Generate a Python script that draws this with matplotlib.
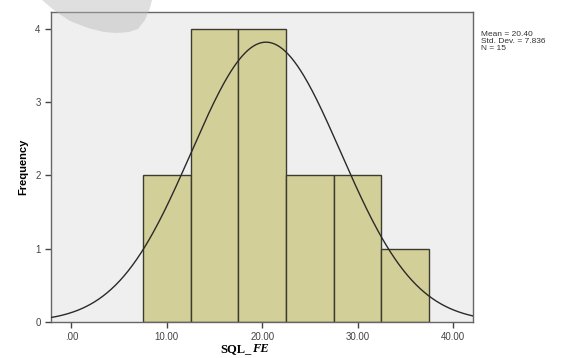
import numpy as np
import matplotlib.pyplot as plt
from matplotlib.patches import Polygon

# histogram data (SQL_FE)
bin_edges = [7.5, 12.5, 17.5, 22.5, 27.5, 32.5, 37.5]
counts = [2, 4, 4, 2, 2, 1]
mean = 20.40
std = 7.836
n = 15

xticks = [0, 10, 20, 30, 40]
xtick_labels = [".00", "10.00", "20.00", "30.00", "40.00"]
yticks = [0, 1, 2, 3, 4]

plt.rcParams["font.family"] = ["Liberation Sans", "DejaVu Sans"]

fig = plt.figure(figsize=(5.64, 3.58), dpi=100)
fig.patch.set_facecolor("white")
ax = fig.add_axes([51 / 564, 36 / 358, 422 / 564, 310 / 358])
ax.set_facecolor("#efefef")

widths = np.diff(bin_edges)
ax.bar(bin_edges[:-1], counts, width=widths, align="edge",
       color="#d3cf98", edgecolor="#3b3b30", linewidth=1.0, zorder=2)

# normal curve scaled to counts
bw = widths[0]
xs = np.linspace(-2.14, 42.1, 400)
ys = n * bw / (std * np.sqrt(2 * np.pi)) * np.exp(-0.5 * ((xs - mean) / std) ** 2)
ax.plot(xs, ys, color="#2a2a2a", linewidth=1.0, zorder=3)

ax.set_xlim(-2.14, 42.1)
ax.set_ylim(0, 4.23)
ax.set_xticks(xticks)
ax.set_xticklabels(xtick_labels)
ax.set_yticks(yticks)
ax.tick_params(axis="both", labelsize=7, colors="#444444", length=4, width=1.0,
               direction="out")
for s in ax.spines.values():
    s.set_color("#666666")
    s.set_linewidth(1.0)

ax.set_ylabel("Frequency", fontsize=8, fontweight="bold", labelpad=5)
fig.text(252 / 564, 1 - 349 / 358, "SQL_", fontsize=9, fontweight="bold",
         family="Liberation Serif", ha="right", va="center")
fig.text(252 / 564, 1 - 349 / 358, "FE", fontsize=9, fontweight="bold",
         style="italic", family="Liberation Serif", ha="left", va="center")

fig.text(481 / 564, 1 - 31 / 358,
         "Mean = %.2f\nStd. Dev. = %.3f\nN = %d" % (mean, std, n),
         fontsize=6, color="#333333", ha="left", va="top", linespacing=0.95)

# faint watermark blob at top
pts = [(42, 0), (55, 11), (70, 21), (88, 28), (104, 32), (117, 33), (129, 32),
       (138, 29), (145, 20), (150, 8), (152, 0)]
blob = Polygon([(x / 564, 1 - y / 358) for x, y in pts], closed=True,
               transform=fig.transFigure, facecolor="#b8b8b8", edgecolor="none",
               alpha=0.45, zorder=10)
fig.patches.append(blob)

fig.savefig("out.png", dpi=100)
